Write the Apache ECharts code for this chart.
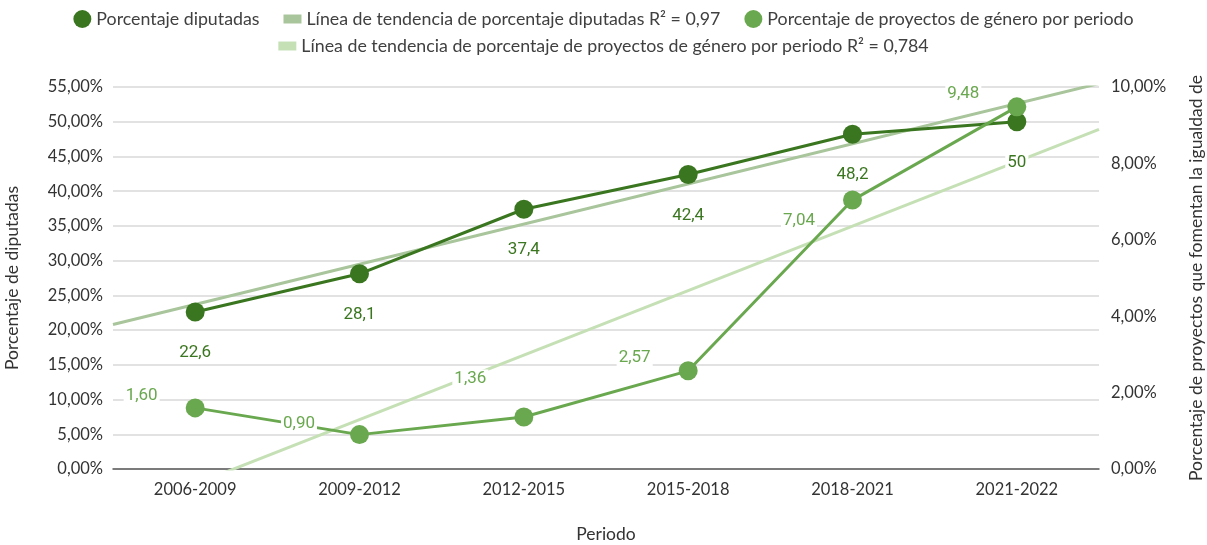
<!DOCTYPE html>
<html>
<head>
<meta charset="utf-8">
<script src="https://cdn.jsdelivr.net/npm/echarts@6/dist/echarts.min.js"></script>
<style>
  html, body { margin: 0; padding: 0; background: #fff; }
  #chart { width: 1207px; height: 545px; }
</style>
</head>
<body>
<div id="chart"></div>
<script>
const periodos = ["2006-2009", "2009-2012", "2012-2015", "2015-2018", "2018-2021", "2021-2022"];
const diputadas = [22.6, 28.1, 37.4, 42.4, 48.2, 50];
const proyectos = [1.60, 0.90, 1.36, 2.57, 7.04, 9.48];
// extremos de las líneas de tendencia (en los bordes del área)
const tendenciaX = [0.5, 6.5];
const tendenciaDiputadas = [20.8, 55.5];
const tendenciaProyectos = [-1.24, 8.89];

const nomDip = "Porcentaje diputadas";
const nomTendDip = "Línea de tendencia de porcentaje diputadas R² = 0,97";
const nomProy = "Porcentaje de proyectos de género por periodo";
const nomTendProy = "Línea de tendencia de porcentaje de proyectos de género por periodo R² = 0,784";

const oscuro = "#3a761f";
const claro = "#6aa84f";
const comma = (v, d) => (d == null ? String(v) : v.toFixed(d)).replace(".", ",");

// desplazamientos de las etiquetas de proyectos
const offsProy = [[0, -12], [-7, -11], [0, -38], [0, -13], [0, 21], [0, -13]];

const chart = echarts.init(document.getElementById("chart"));
const barIcon = "path://M0,0h18v9h-18z";
const legendText = { fontFamily: "Lato", fontSize: 17.8, color: "#404040" };
const axisFont = { fontFamily: "Lato", fontSize: 16.5, color: "#333" };
const nameFont = { fontFamily: "Lato", fontSize: 17.5, color: "#333" };

chart.setOption({
  animation: false,
  legend: [
    {
      top: 5, left: "center", itemWidth: 18, itemHeight: 18, itemGap: 24,
      textStyle: legendText,
      data: [
        { name: nomDip, icon: "circle" },
        { name: nomTendDip, icon: barIcon },
        { name: nomProy, icon: "circle" }
      ]
    },
    {
      top: 32, left: "center", itemWidth: 18, itemHeight: 18,
      textStyle: legendText,
      data: [{ name: nomTendProy, icon: barIcon }]
    }
  ],
  grid: { left: 113, right: 108, top: 87, bottom: 76, outerBoundsMode: "none" },
  xAxis: [
    {
      type: "category", data: periodos, boundaryGap: true,
      name: "Periodo", nameLocation: "middle", nameGap: 56,
      nameTextStyle: nameFont,
      axisLine: { lineStyle: { color: "#595959", width: 1.5 } },
      axisTick: { show: false },
      axisLabel: Object.assign({ margin: 12 }, axisFont)
    },
    { type: "value", min: 0.5, max: 6.5, show: false }
  ],
  yAxis: [
    {
      type: "value", min: 0, max: 55, interval: 5,
      name: "Porcentaje de diputadas", nameLocation: "middle", nameGap: 92, nameRotate: 90,
      nameTextStyle: nameFont,
      axisLine: { show: false }, axisTick: { show: false },
      axisLabel: Object.assign({ margin: 10, formatter: v => comma(v, 2) + "%" }, axisFont),
      splitLine: { lineStyle: { color: "#d9d9d9", width: 1.5 } }
    },
    {
      type: "value", min: 0, max: 10, interval: 2, position: "right",
      name: "Porcentaje de proyectos que fomentan la igualdad de", nameLocation: "middle",
      nameGap: 88, nameRotate: 90,
      nameTextStyle: nameFont,
      axisLine: { show: false }, axisTick: { show: false },
      axisLabel: Object.assign({ margin: 12, formatter: v => comma(v, 2) + "%" }, axisFont),
      splitLine: { show: false }
    }
  ],
  series: [
    {
      name: nomTendDip, type: "line", xAxisIndex: 1, yAxisIndex: 0,
      data: tendenciaX.map((x, i) => [x, tendenciaDiputadas[i]]),
      symbol: "none", z: 1, silent: true,
      itemStyle: { color: "#a9c59c" },
      lineStyle: { color: "#a9c59c", width: 3 }
    },
    {
      name: nomTendProy, type: "line", xAxisIndex: 1, yAxisIndex: 1,
      data: tendenciaX.map((x, i) => [x, tendenciaProyectos[i]]),
      symbol: "none", z: 1, silent: true, clip: true,
      itemStyle: { color: "#c6e0b6" },
      lineStyle: { color: "#c6e0b6", width: 3 }
    },
    {
      name: nomDip, type: "line", yAxisIndex: 0, data: diputadas,
      symbol: "circle", symbolSize: 19, z: 3,
      itemStyle: { color: oscuro },
      lineStyle: { color: oscuro, width: 3 },
      label: {
        show: true, position: "bottom", distance: 22,
        fontFamily: "Roboto", fontSize: 17, color: oscuro,
        backgroundColor: "#fff", padding: [1, 2],
        formatter: p => comma(p.value)
      }
    },
    {
      name: nomProy, type: "line", yAxisIndex: 1,
      data: proyectos.map((v, i) => ({
        value: v,
        label: { offset: offsProy[i] }
      })),
      symbol: "circle", symbolSize: 19, z: 4,
      itemStyle: { color: claro },
      lineStyle: { color: claro, width: 3 },
      label: {
        show: true, position: "left", distance: 26,
        fontFamily: "Roboto", fontSize: 17, color: claro,
        backgroundColor: "#fff", padding: [1, 2],
        formatter: p => comma(p.value, 2)
      }
    }
  ]
});

window.onresize = function () {
  chart.resize();
};
</script>
</body>
</html>
